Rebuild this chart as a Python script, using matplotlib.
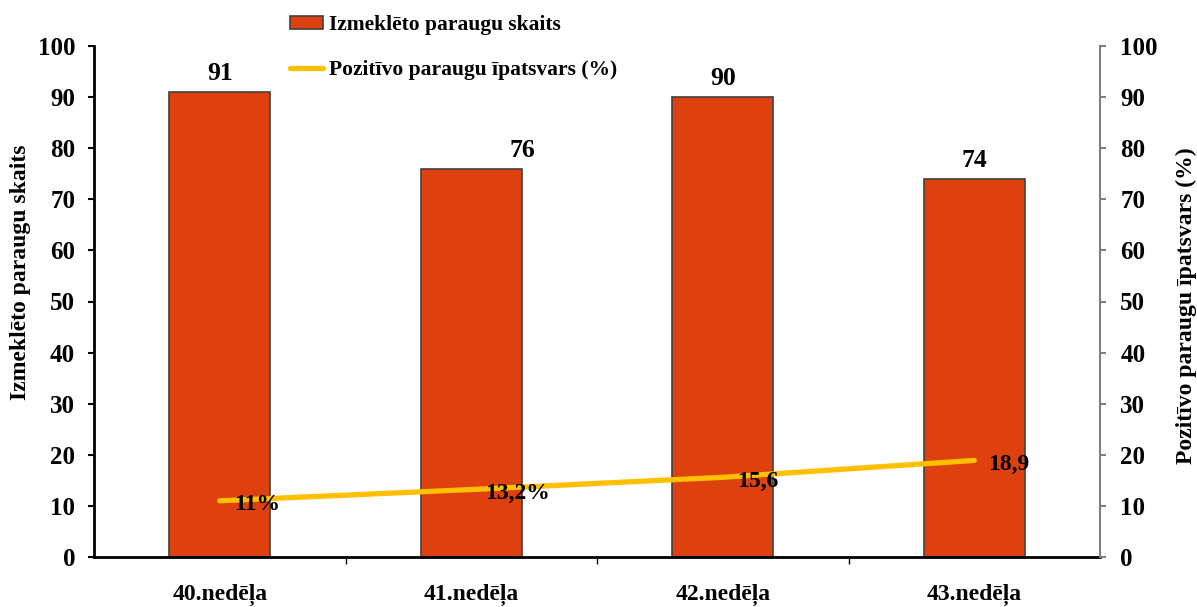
import matplotlib
matplotlib.use("Agg")
import matplotlib.pyplot as plt
from matplotlib.ticker import MultipleLocator, FixedLocator, NullFormatter

categories = ["40.nedēļa", "41.nedēļa", "42.nedēļa", "43.nedēļa"]
counts = [91, 76, 90, 74]
share = [11, 13.2, 15.6, 18.9]
share_labels = ["11%", "13,2%", "15,6", "18,9"]
# horizontal nudge (points) of the bar value labels, as placed in the original
count_label_dx = [0, 37, 0, 0]

plt.rcParams['font.family'] = ['Liberation Serif', 'DejaVu Serif']
plt.rcParams['font.weight'] = 'bold'

fig = plt.figure(figsize=(11.97, 6.07), dpi=100)
ax = fig.add_axes([94/1197, 1-557/607, (1100-94)/1197, (557-46)/607])
x = list(range(len(categories)))
bars = ax.bar(x, counts, width=0.4, color='#DE400E', edgecolor='#404040', linewidth=1.2,
              label='Izmeklēto paraugu skaits', zorder=2)
ax.set_xlim(-0.5, 3.5)
ax.set_ylim(0, 100)
ax.yaxis.set_major_locator(MultipleLocator(10))
ax.set_xticks(x)
ax.set_xticklabels(categories, fontsize=17, fontweight='bold')
ax.tick_params(axis='x', which='major', length=0, pad=19)
ax.xaxis.set_minor_locator(FixedLocator([0.5, 1.5, 2.5]))
ax.xaxis.set_minor_formatter(NullFormatter())
ax.tick_params(axis='x', which='minor', length=5, width=1, direction='out')
ax.tick_params(axis='y', labelsize=18, length=4.5, width=1.5, direction='out', pad=9)
for lab in ax.get_yticklabels():
    lab.set_fontweight('bold')
ax.spines['top'].set_visible(False)
ax.spines['right'].set_visible(False)
ax.spines['left'].set_linewidth(2)
ax.spines['bottom'].set_linewidth(2)
ax.set_ylabel('Izmeklēto paraugu skaits', fontsize=17, fontweight='bold')
ax.yaxis.set_label_coords((31-94)/1006, (557-272)/511)

for xi, c, dx in zip(x, counts, count_label_dx):
    ax.annotate(str(c), (xi, c), xytext=(dx, 5), textcoords='offset points',
                ha='center', va='bottom', fontsize=18.5, fontweight='bold')

ax2 = ax.twinx()
ax2.set_ylim(0, 100)
ax2.yaxis.set_major_locator(MultipleLocator(10))
line, = ax2.plot(x, share, color='#FFC000', linewidth=3.8, solid_capstyle='round',
                 label='Pozitīvo paraugu īpatsvars (%)', zorder=3)
for spn in ['top', 'left', 'bottom']:
    ax2.spines[spn].set_visible(False)
ax2.spines['right'].set_color('#808080')
ax2.spines['right'].set_linewidth(1.5)
ax2.tick_params(axis='y', labelsize=18, length=4.5, width=1.5, direction='out', color='#808080', pad=10)
for lab in ax2.get_yticklabels():
    lab.set_fontweight('bold')
ax2.set_ylabel('Pozitīvo paraugu īpatsvars (%)', fontsize=17, fontweight='bold')
ax2.yaxis.set_label_coords((1176-94)/1006, (557-306)/511)

for xi, s, t in zip(x, share, share_labels):
    ax2.annotate(t, (xi, s), xytext=(10, -3), textcoords='offset points',
                 ha='left', va='center', fontsize=17, fontweight='bold', zorder=5)

fig.legend([bars, line], ['Izmeklēto paraugu skaits', 'Pozitīvo paraugu īpatsvars (%)'],
           loc='upper left', bbox_to_anchor=(273/1197, 1+2/607), frameon=False,
           prop={'family': ['Liberation Serif'], 'weight': 'bold', 'size': 15.5},
           handlelength=1.5, handleheight=0.5, handletextpad=0.3, labelspacing=1.15,
           borderpad=0.3)

fig.savefig('out.png', dpi=100)
